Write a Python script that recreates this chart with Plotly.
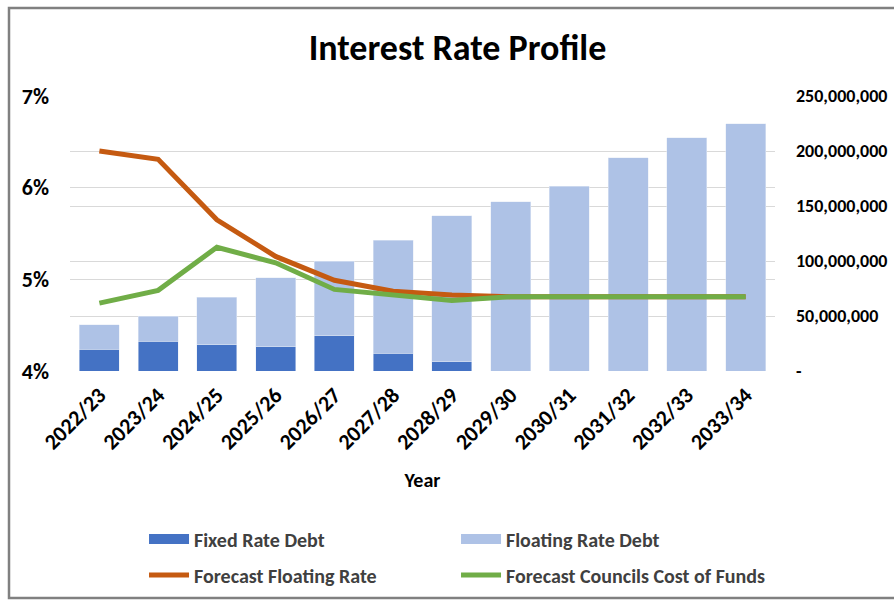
import plotly.graph_objects as go

years = ["2022/23", "2023/24", "2024/25", "2025/26", "2026/27", "2027/28",
         "2028/29", "2029/30", "2030/31", "2031/32", "2032/33", "2033/34"]
fixed_debt = [20e6, 27e6, 24e6, 22e6, 32e6, 16e6, 8.5e6, 0, 0, 0, 0, 0]
floating_debt = [22e6, 23e6, 43e6, 63e6, 68e6, 103e6, 132.5e6, 154e6, 168e6, 194e6, 212e6, 225e6]
forecast_floating_rate = [0.0640, 0.0631, 0.0565, 0.0525, 0.0499, 0.0487, 0.0483,
                          0.0481, 0.0481, 0.0481, 0.0481, 0.0481]
councils_cost_of_funds = [0.0474, 0.0488, 0.0535, 0.0518, 0.0489, 0.0483, 0.0477,
                          0.0481, 0.0481, 0.0481, 0.0481, 0.0481]

money_ticks = [0, 50e6, 100e6, 150e6, 200e6, 250e6]
money_labels = ["-", "50,000,000", "100,000,000", "150,000,000", "200,000,000", "250,000,000"]
rate_ticks = [0.04, 0.05, 0.06, 0.07]

FONT = "Carlito, 'Liberation Sans Narrow', Roboto, sans-serif"
DARK_BLUE = "#4472C4"
LIGHT_BLUE = "#AEC2E6"
ORANGE = "#C55A11"
GREEN = "#70AD47"

fig = go.Figure()
# bars on base axis (y, shown on the right side)
fig.add_trace(go.Bar(x=years, y=fixed_debt, name="Fixed Rate Debt", marker_color=DARK_BLUE,
                     yaxis="y", showlegend=False))
fig.add_trace(go.Bar(x=years, y=floating_debt, name="Floating Rate Debt", marker_color=LIGHT_BLUE,
                     yaxis="y", showlegend=False))
# lines on overlay axis (y2, left side) so they sit above the bars
fig.add_trace(go.Scatter(x=years, y=forecast_floating_rate, name="Forecast Floating Rate",
                         mode="lines", line=dict(color=ORANGE, width=5), yaxis="y2",
                         showlegend=False))
fig.add_trace(go.Scatter(x=years, y=councils_cost_of_funds, name="Forecast Councils Cost of Funds",
                         mode="lines", line=dict(color=GREEN, width=5), yaxis="y2",
                         showlegend=False))

# legend-only keys (wide rectangles / lines like the original)
for nm, col, w, lg in [("Fixed Rate Debt", DARK_BLUE, 12, "legend"),
                       ("Floating Rate Debt", LIGHT_BLUE, 12, "legend"),
                       ("Forecast Floating Rate", ORANGE, 5, "legend2"),
                       ("Forecast Councils Cost of Funds", GREEN, 5, "legend2")]:
    fig.add_trace(go.Scatter(x=[None], y=[None], name=nm, mode="lines",
                             line=dict(color=col, width=w), yaxis="y2", showlegend=True,
                             legend=lg))

leg_common = dict(orientation="h", x=0.105, xanchor="left", yanchor="middle",
                  entrywidth=257, entrywidthmode="pixels", itemwidth=40,
                  traceorder="normal",
                  font=dict(size=20, color="#404040", weight="bold"))

fig.update_layout(
    width=894, height=601,
    barmode="stack", bargap=0.32,
    paper_bgcolor="white", plot_bgcolor="white",
    margin=dict(l=70, r=119, t=96, b=230, autoexpand=False),
    font=dict(family=FONT, color="#000000"),
    title=dict(text="Interest Rate Profile", x=457.5 / 894, xanchor="center",
               y=1 - 47 / 601, yanchor="middle",
               font=dict(size=36, color="#000000", weight="bold")),
    xaxis=dict(tickangle=-45, tickfont=dict(size=22, color="#000000", weight="bold"),
               title=dict(text="Year", font=dict(size=20, weight="bold"), standoff=18),
               showgrid=False, showline=False, ticks="", ticklabelstandoff=6),
    yaxis=dict(side="right", range=[0, 250e6], tickvals=money_ticks, ticktext=money_labels,
               tickfont=dict(size=18, color="#000000", weight="bold"), showgrid=True,
               gridcolor="#D9D9D9", zeroline=False, ticklabelstandoff=20),
    yaxis2=dict(side="left", overlaying="y", range=[0.04, 0.07], tickvals=rate_ticks,
                tickformat=".0%", tickfont=dict(size=22, color="#000000", weight="bold"),
                showgrid=True, gridcolor="#D9D9D9", zeroline=False, ticklabelstandoff=20),
    legend=dict(y=(371 - 539) / 275, **leg_common),
    legend2=dict(y=(371 - 575) / 275, **leg_common),
    shapes=[dict(type="rect", xref="paper", yref="paper",
                 x0=-61 / 705, x1=1.3, y0=(371 - 598) / 275, y1=(371 - 8) / 275,
                 line=dict(color="#808080", width=2.5), fillcolor="rgba(0,0,0,0)",
                 layer="below")],
)

fig.write_html("out.html", config={"displayModeBar": False},
               post_script="document.body.style.margin='0';")
